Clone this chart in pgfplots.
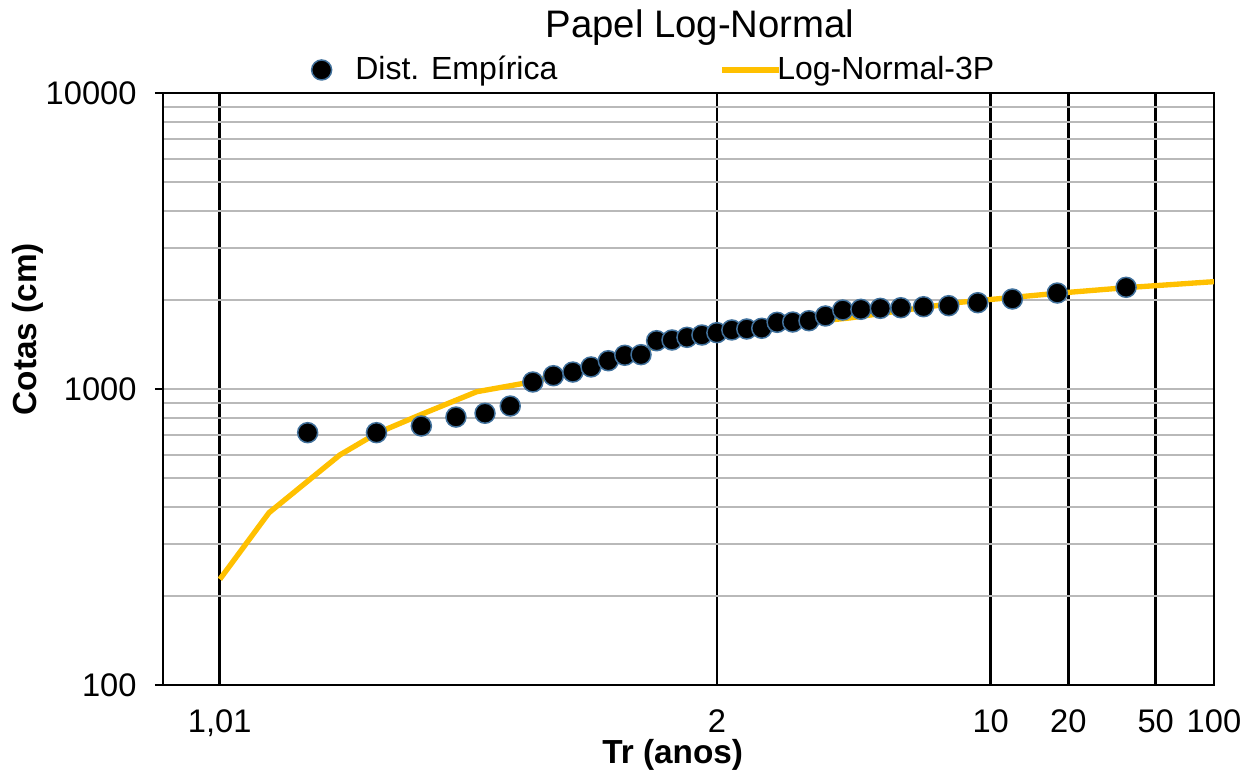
\documentclass[border=0pt]{standalone}
\usepackage{pgfplots}
\pgfplotsset{compat=1.18}
\usepackage{fontspec}
\setmainfont{Liberation Sans}
\definecolor{lnline}{HTML}{FFC000}
\definecolor{mkedge}{HTML}{41719C}
\definecolor{gridg}{HTML}{B9B9B9}
\begin{document}
\begin{tikzpicture}
\path[use as bounding box] (-48.9pt,-25.8pt) rectangle (324pt,205.5pt);
\begin{axis}[
  scale only axis, width=315.3pt, height=177.6pt,
  at={(0,0)}, anchor=south west,
  xmin=-2.592, xmax=2.3263,
  ymode=log, ymin=100, ymax=10000,
  log basis y=10,
  xtick={-2.3263,0,1.2816,1.6449,2.0537,2.3263},
  xticklabels={{1,01},2,10,20,50,100},
  ytick={100,1000,10000},
  yticklabels={100,1000,10000},
  minor ytick={200,300,400,500,600,700,800,900,2000,3000,4000,5000,6000,7000,8000,9000},
  ytick pos=left,
  /pgf/number format/assume math mode=true,
  ticklabel style={font=\fontsize{9.8pt}{11pt}\selectfont},
  xticklabel style={yshift=-1.6pt},
  yticklabel style={xshift=-2pt},
  xtick style={draw=none},
  ytick style={black, line width=0.4pt},
  tick align=outside, major tick length=2.4pt, minor tick length=0pt,
  xmajorgrids=true, ymajorgrids=true, yminorgrids=true,
  x grid style={black, line width=0.8pt},
  y grid style={gridg, line width=0.6pt},
  minor y grid style={gridg, line width=0.6pt},
  axis line style={black, line width=0.4pt},
  title={Papel Log-Normal},
  title style={font=\fontsize{11.5pt}{13pt}\selectfont, at={(axis description cs:0.511,1.1098)}, anchor=center, yshift=-6pt},
  xlabel={Tr (anos)},
  xlabel style={font=\bfseries\fontsize{10pt}{12pt}\selectfont, at={(axis description cs:0.485,-0.118)}, anchor=center},
  ylabel={Cotas (cm)},
  ylabel style={font=\bfseries\fontsize{10pt}{12pt}\selectfont, at={(axis description cs:-0.1285,0.601)}, anchor=center},
  legend style={at={(axis description cs:0.1408,1.0389)}, anchor=west, draw=none, fill=none, inner sep=0pt,
    legend columns=2, font=\fontsize{9.6pt}{11pt}\selectfont,
    /tikz/every even column/.append style={column sep=46.6pt}},
  legend cell align=left,
]
\addlegendimage{only marks, mark=*, mark size=3pt, mark options={fill=black, draw=mkedge, line width=0.45pt}}
\addlegendentry{\hspace{5.1pt}Dist. Empírica}
\addlegendimage{lnline, line width=1.6pt}
\addlegendentry{\hspace{-3.3pt}Log-Normal-3P}

\addplot[lnline, line width=1.6pt, forget plot] coordinates {
(-2.326,227.6) (-2.096,382) (-1.764,599) (-1.592,708.6) (-1.390,817) (-1.124,979)
(-0.860,1059) (-0.594,1201) (-0.3135,1376) (0,1535) (0.295,1644) (0.622,1738)
(1.137,1963) (1.590,2105) (1.9125,2199) (2.3263,2305)
};

\addplot[only marks, mark=*, mark size=3pt, mark options={fill=black, draw=mkedge, line width=0.45pt}, forget plot] coordinates {
(-1.915,712) (-1.593,712) (-1.383,750) (-1.221,804) (-1.085,828) (-0.967,876)
(-0.861,1056) (-0.765,1109) (-0.674,1141) (-0.589,1187) (-0.508,1246) (-0.431,1300)
(-0.355,1306) (-0.282,1456) (-0.210,1464) (-0.140,1495) (-0.070,1522) (0,1550)
(0.070,1583) (0.140,1595) (0.210,1604) (0.282,1680) (0.355,1684) (0.431,1701)
(0.508,1765) (0.589,1849) (0.674,1859) (0.765,1873) (0.861,1882) (0.967,1897)
(1.085,1912) (1.221,1957) (1.383,2014) (1.593,2110) (1.915,2206)
};
\end{axis}
\end{tikzpicture}
\end{document}
